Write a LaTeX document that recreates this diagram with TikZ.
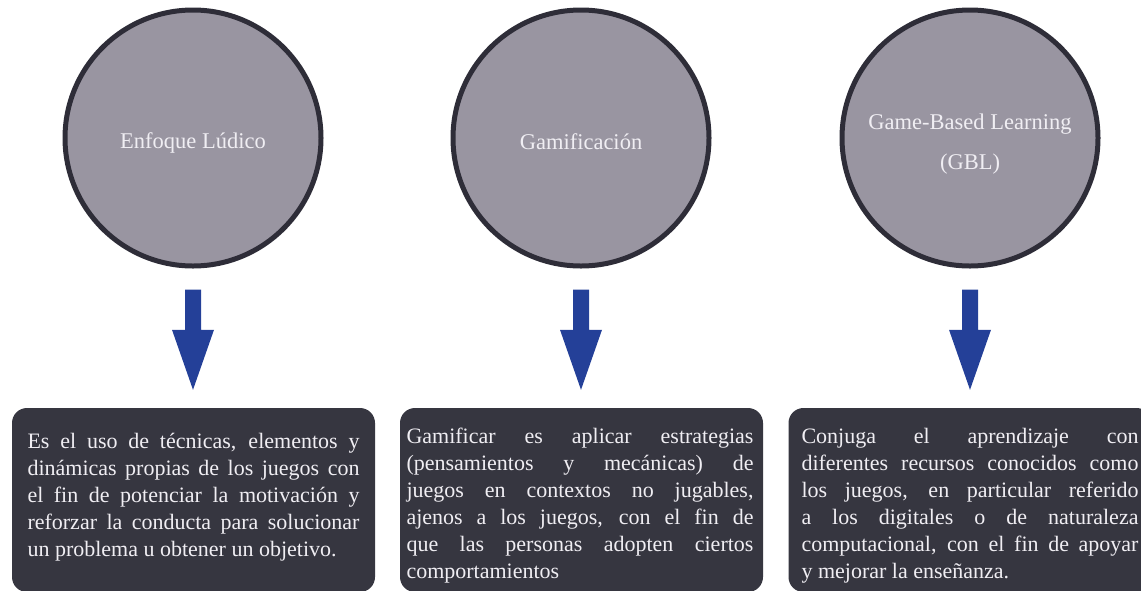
\documentclass[tikz,border=0pt]{standalone}
\usepackage{fontspec}
\setmainfont{Liberation Serif}
\usetikzlibrary{calc}
\definecolor{circfill}{RGB}{153,149,161}
\definecolor{circline}{RGB}{46,45,56}
\definecolor{boxfill}{RGB}{54,54,64}
\definecolor{arrowc}{RGB}{36,64,152}
\definecolor{lighttext}{RGB}{240,238,243}
\tikzset{
  topic/.style={circle, draw=circline, line width=5pt, fill=circfill, minimum size=256pt, inner sep=0pt},
  topictext/.style={text=lighttext, align=center, font=\fontsize{22.5}{40}\selectfont, inner sep=0pt},
  descbox/.style={rectangle, rounded corners=15pt, fill=boxfill, minimum width=363pt,
    minimum height=184pt, inner sep=0pt},
  desctext/.style={text=lighttext, align=justify, inner sep=0pt,
    font=\fontsize{22}{27}\selectfont},
  blockarrow/.style={fill=arrowc}
}
\begin{document}
\begin{tikzpicture}[x=1pt,y=-1pt]
\useasboundingbox (0,0) rectangle (1141,590);
\node[topic] (c1) at (193,138) {};
\node[topic] (c2) at (581,138) {};
\node[topic] (c3) at (970,138) {};
\node[topictext] (l1) at (193,143) {Enfoque Lúdico};
\node[topictext] (l2) at (581,142) {Gamificación};
\node[topictext] (l3) at (970,144) {Game-Based Learning\\(GBL)};

\node[descbox] (b1) at (193.5,500) {};
\node[descbox] (b2) at (581.5,500) {};
\node[descbox] (b3) at (970,500) {};
\node[desctext, text width=332pt] (t1) at (193.5,497) {Es el uso de técnicas, elementos y\linebreak dinámicas propias de los juegos con\linebreak el fin de potenciar la motivación y\linebreak reforzar la conducta para solucionar\linebreak un problema u obtener un objetivo.};
\node[desctext, text width=347pt] (t2) at (580,506) {Gamificar es aplicar estrategias\linebreak (pensamientos y mecánicas) de\linebreak juegos en contextos no jugables,\linebreak ajenos a los juegos, con el fin de\linebreak que las personas adopten ciertos\linebreak comportamientos};
\node[desctext, text width=337pt] (t3) at (970,506) {Conjuga el aprendizaje con\linebreak diferentes recursos conocidos como\linebreak los juegos, en particular referido\linebreak a los digitales o de naturaleza\linebreak computacional, con el fin de apoyar\linebreak y mejorar la enseñanza.};

\foreach \c/\b in {c1/b1,c2/b2,c3/b3}{
  \fill[blockarrow] let \p1=(\c.south), \p2=(\b.north) in
    (\x1-8pt,\y1-21pt) -- (\x1+8pt,\y1-21pt) -- (\x1+8pt,\y2+78pt) -- (\x1+21pt,\y2+78pt)
    -- (\x1,\y2+18pt) -- (\x1-21pt,\y2+78pt) -- (\x1-8pt,\y2+78pt) -- cycle;
}
\end{tikzpicture}
\end{document}
